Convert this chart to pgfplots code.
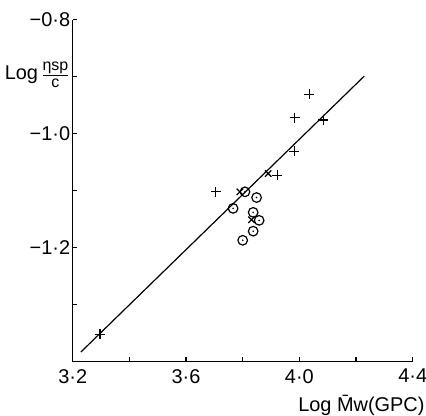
\documentclass[border=0pt]{standalone}
\usepackage{pgfplots}
\pgfplotsset{compat=1.18}
\usepackage{fontspec}
\setmainfont{Liberation Sans}
\pgfdeclareplotmark{odot}{%
  \pgfpathcircle{\pgfpoint{0pt}{0pt}}{\pgfplotmarksize}\pgfusepathqstroke
  \pgfpathcircle{\pgfpoint{0pt}{0pt}}{0.9pt}\pgfusepathqfill}
\begin{document}
\begin{tikzpicture}
\useasboundingbox (-72.7bp,-54.3bp) rectangle (353.3bp,361.7bp);
\begin{axis}[
  at={(0,0)}, anchor=south west,
  scale only axis, width=340bp, height=342bp,
  xmin=3.2, xmax=4.4, ymin=-1.4, ymax=-0.8,
  axis x line*=bottom, axis y line*=left,
  axis line style={line width=1.2bp},
  every tick/.style={black, line width=1.1bp},
  tick align=inside, major tick length=4.5bp, minor tick length=4.5bp,
  xtick={3.2,3.6,4.0,4.4},
  xticklabels={3·2,3·6,4·0,4·4},
  minor xtick={3.4,3.8,4.2},
  ytick={-1.2,-1.0,-0.8},
  yticklabels={−1·2,−1·0,−0·8},
  minor ytick={-1.3,-1.1,-0.9},
  tick label style={font=\fontsize{20}{20}\selectfont},
  xticklabel style={yshift=-4bp},
  yticklabel style={xshift=1bp},
  clip=false,
]
\addplot[no markers, line width=1.2bp] coordinates {(3.229,-1.383) (4.229,-0.899)};
% plus series
\addplot[only marks, mark=+, mark size=5bp, line width=1.3bp] coordinates {
 (4.035,-0.931) (3.984,-0.972) (4.084,-0.976) (3.982,-1.031)
 (3.922,-1.073) (3.705,-1.102) (3.296,-1.352)};
% x series
\addplot[only marks, mark=x, mark size=4.5bp, line width=1.3bp] coordinates {
 (3.890,-1.070) (3.790,-1.102) (3.831,-1.151)};
% circle series
\addplot[only marks, mark=odot, mark size=4.8bp, line width=1.2bp] coordinates {
 (3.808,-1.102) (3.849,-1.112) (3.766,-1.131) (3.837,-1.138)
 (3.858,-1.152) (3.837,-1.171) (3.800,-1.187)};
\node[anchor=base east, inner sep=0pt, font=\fontsize{20}{20}\selectfont]
  at (rel axis cs:1,0) [xshift=12bp, yshift=-50bp] {Log \={M}w(GPC)};
\node[anchor=east, inner sep=0pt, font=\fontsize{20}{20}\selectfont]
  at (axis cs:3.2,-0.9) [xshift=-3bp, yshift=2bp]
  {Log\,$\frac{\hbox{\fontsize{16}{16}\selectfont ηsp}}{\hbox{\fontsize{16}{16}\selectfont c}}$};
\end{axis}
\end{tikzpicture}
\end{document}
